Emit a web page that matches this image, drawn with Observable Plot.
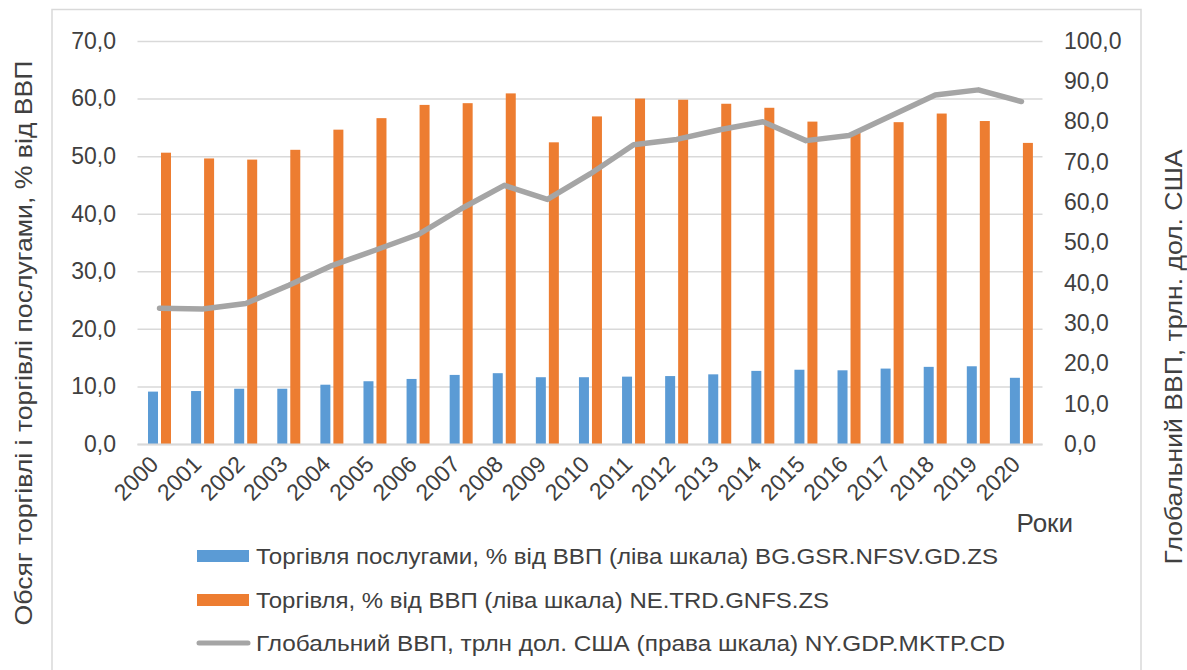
<!DOCTYPE html>
<html>
<head>
<meta charset="utf-8">
<script src="https://cdn.jsdelivr.net/npm/d3@7"></script>
<script src="https://cdn.jsdelivr.net/npm/@observablehq/plot@0.6"></script>
<style>
  html, body { margin: 0; padding: 0; background: #ffffff; }
  #fig { position: relative; width: 1187px; height: 670px; overflow: hidden; font-family: "Liberation Sans", Arial, sans-serif; }
  #fig svg { display: block; }
  #overlay { position: absolute; left: 0; top: 0; pointer-events: none; }
</style>
</head>
<body>
<div id="fig"></div>
<script>
// ---- data ----
const years = ["2000","2001","2002","2003","2004","2005","2006","2007","2008","2009","2010",
               "2011","2012","2013","2014","2015","2016","2017","2018","2019","2020"];
const servicesTrade = [9.1, 9.2, 9.6, 9.6, 10.3, 10.9, 11.3, 12.0, 12.3, 11.6, 11.6,
                       11.7, 11.8, 12.1, 12.7, 12.9, 12.8, 13.1, 13.4, 13.5, 11.5];
const trade = [50.6, 49.6, 49.4, 51.1, 54.6, 56.6, 58.9, 59.2, 60.9, 52.4, 56.9,
               60.0, 59.8, 59.1, 58.4, 56.0, 54.2, 55.9, 57.4, 56.1, 52.3];
const globalGdp = [33.8, 33.6, 35.0, 39.5, 44.4, 48.2, 52.1, 58.5, 64.3, 60.8, 67.2,
                   74.4, 75.7, 78.1, 80.1, 75.4, 76.7, 81.7, 86.7, 88.0, 85.1];
const leftTicks = [0, 10, 20, 30, 40, 50, 60, 70];
const rightTicks = [0, 10, 20, 30, 40, 50, 60, 70, 80, 90, 100];
const seriesNames = [
  "Торгівля послугами, % від ВВП (ліва шкала) BG.GSR.NFSV.GD.ZS",
  "Торгівля, % від ВВП (ліва шкала) NE.TRD.GNFS.ZS",
  "Глобальний ВВП, трлн дол. США (права шкала) NY.GDP.MKTP.CD"
];
const leftTitle = "Обсяг торгівлі і торгівлі послугами, % від ВВП";
const rightTitle = "Глобальний ВВП, трлн. дол. США";
const xTitle = "Роки";

// ---- derived table ----
const rows = years.map((y, i) => ({year: y, services: servicesTrade[i], trade: trade[i], gdp: globalGdp[i]}));
const ratio = 70 / 100; // right scale (0..100) mapped onto left scale (0..70)
const fmt = d => d.toFixed(1).replace(".", ",");

const colors = {services: "#5b9bd5", trade: "#ed7d31", gdp: "#a5a5a5", grid: "#d9d9d9", text: "#404040"};
const FONT = "'Liberation Sans', Arial, sans-serif";

const chart = Plot.plot({
  width: 1187,
  height: 540,
  marginTop: 41,
  marginBottom: 96,
  marginLeft: 137.5,
  marginRight: 144.5,
  style: {fontFamily: FONT, fontSize: "23px", color: colors.text, background: "transparent", overflow: "visible"},
  x: {type: "band", domain: years, padding: 0, round: false},
  y: {domain: [0, 70]},
  marks: [
    Plot.gridY(leftTicks, {stroke: colors.grid, strokeOpacity: 1, strokeWidth: 1.5}),
    Plot.barY(rows, {x: "year", y: "services", fill: colors.services, insetLeft: 10.5, insetRight: 22.6}),
    Plot.barY(rows, {x: "year", y: "trade", fill: colors.trade, insetLeft: 23.5, insetRight: 9.6}),
    Plot.ruleY([0], {stroke: colors.grid, strokeWidth: 2}),
    Plot.lineY(rows, {x: "year", y: d => d.gdp * ratio, stroke: colors.gdp, strokeWidth: 5.5,
                      strokeLinecap: "round", strokeLinejoin: "round"}),
    Plot.axisY(leftTicks, {anchor: "left", tickSize: 0, tickPadding: 22, tickFormat: fmt, label: null,
                           fill: colors.text}),
    Plot.axisY(rightTicks.map(v => v * ratio), {anchor: "right", tickSize: 0, tickPadding: 21,
                           tickFormat: d => fmt(Math.round(d / ratio)), label: null, fill: colors.text}),
    Plot.axisX({tickSize: 0, tickRotate: -45, tickPadding: 8, dx: -5, dy: 8, label: null, fill: colors.text}),
    Plot.text([xTitle], {frameAnchor: "bottom-right", dx: 30, dy: 87, fontSize: 26, fill: colors.text})
  ]
});
const fig = document.getElementById("fig");
fig.appendChild(chart);

// ---- legend (below the plot) ----
const legend = d3.create("svg").attr("width", 1187).attr("height", 130)
  .style("font-family", FONT).style("display", "block");
const rowY = [16, 60, 103];
const textLens = [742, 573, 749];
legend.append("rect").attr("x", 197).attr("y", rowY[0] - 6).attr("width", 52).attr("height", 12).attr("fill", colors.services);
legend.append("rect").attr("x", 197).attr("y", rowY[1] - 6).attr("width", 52).attr("height", 12).attr("fill", colors.trade);
legend.append("line").attr("x1", 199).attr("x2", 248).attr("y1", rowY[2]).attr("y2", rowY[2])
  .attr("stroke", colors.gdp).attr("stroke-width", 5).attr("stroke-linecap", "round");
seriesNames.forEach((name, i) => {
  legend.append("text").attr("x", 256).attr("y", rowY[i]).attr("dy", "0.36em")
    .attr("font-size", 22).attr("fill", colors.text)
    .attr("textLength", textLens[i]).attr("lengthAdjust", "spacingAndGlyphs")
    .text(name);
});
fig.appendChild(legend.node());

// ---- overlay: chart-area frame and axis titles ----
const ov = d3.create("svg").attr("id", "overlay").attr("width", 1187).attr("height", 670)
  .style("font-family", FONT);
ov.append("path").attr("d", "M52,672V9.5H1141V672").attr("fill", "none")
  .attr("stroke", colors.grid).attr("stroke-width", 1.5);
ov.append("text").attr("transform", "translate(32,343) rotate(-90)").attr("text-anchor", "middle")
  .attr("font-size", 24).attr("fill", colors.text)
  .attr("textLength", 565).attr("lengthAdjust", "spacingAndGlyphs").text(leftTitle);
ov.append("text").attr("transform", "translate(1182,357) rotate(-90)").attr("text-anchor", "middle")
  .attr("font-size", 24).attr("fill", colors.text)
  .attr("textLength", 415).attr("lengthAdjust", "spacingAndGlyphs").text(rightTitle);
fig.appendChild(ov.node());
</script>
</body>
</html>
